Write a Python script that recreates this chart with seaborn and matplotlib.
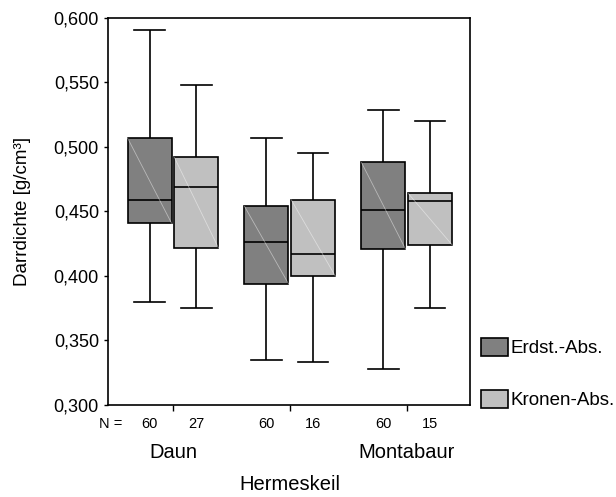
import numpy as np
import pandas as pd
import matplotlib
matplotlib.use("Agg")
import matplotlib.pyplot as plt
import seaborn as sns
from matplotlib.patches import Patch
from matplotlib.ticker import FuncFormatter, MultipleLocator
from matplotlib.transforms import blended_transform_factory

# ---- data (five-number summaries) ----
sites = ["Daun", "Hermeskeil", "Montabaur"]
groups = ["Erdst.-Abs.", "Kronen-Abs."]
n_erdst = [60, 60, 60]
n_kronen = [27, 16, 15]

erdst_min = [0.380, 0.335, 0.328]
erdst_q1 = [0.441, 0.394, 0.421]
erdst_med = [0.459, 0.426, 0.451]
erdst_q3 = [0.507, 0.454, 0.488]
erdst_max = [0.591, 0.507, 0.529]

kronen_min = [0.375, 0.333, 0.375]
kronen_q1 = [0.422, 0.400, 0.424]
kronen_med = [0.469, 0.417, 0.458]
kronen_q3 = [0.492, 0.459, 0.464]
kronen_max = [0.548, 0.495, 0.520]

colors = ["#808080", "#c0c0c0"]

rows = []
for g, stats in zip(groups, [
        (erdst_min, erdst_q1, erdst_med, erdst_q3, erdst_max),
        (kronen_min, kronen_q1, kronen_med, kronen_q3, kronen_max)]):
    for i, s in enumerate(sites):
        for arr in stats:
            rows.append({"Standort": s, "Gruppe": g, "Darrdichte": arr[i]})
df = pd.DataFrame(rows)

plt.rcParams["font.family"] = ["Liberation Sans", "DejaVu Sans"]

fig = plt.figure(figsize=(6.16, 4.97), dpi=100)
ax = fig.add_axes([108 / 616, 1 - 405 / 497, (470 - 108) / 616, (405 - 18) / 497])

sns.boxplot(data=df, x="Standort", y="Darrdichte", hue="Gruppe",
            order=sites, hue_order=groups, palette=colors,
            whis=(0, 100), width=0.8, gap=0.06, linewidth=1.2,
            linecolor="black", showfliers=False, legend=False,
            capwidths=0.26, ax=ax)

# faint diagonal highlight in each box (as in the original SPSS graphic)
for p in list(ax.patches):
    v = p.get_path().vertices
    x0, x1 = v[:, 0].min(), v[:, 0].max()
    y0, y1 = v[:, 1].min(), v[:, 1].max()
    ax.plot([x0, x1], [y1, y0], color="white", lw=0.6, alpha=0.45, zorder=3)

ax.set_xlim(-0.555, 2.54)
ax.set_ylim(0.300, 0.600)
ax.yaxis.set_major_locator(MultipleLocator(0.05))
ax.yaxis.set_major_formatter(FuncFormatter(lambda v, p: f"{v:.3f}".replace(".", ",")))
ax.tick_params(axis="y", labelsize=13, length=3, width=1, direction="out", pad=3.5)
ax.set_xticks(range(len(sites)))
ax.set_xticklabels([""] * len(sites))
ax.tick_params(axis="x", length=4, width=1, direction="out")
for sp in ax.spines.values():
    sp.set_visible(True)
    sp.set_color("black")
    sp.set_linewidth(1.2)
ax.set_xlabel("")
ax.set_ylabel("Darrdichte [g/cm³]", fontsize=13.5, labelpad=16)

# N row and staggered site labels
tr = blended_transform_factory(ax.transData, ax.transAxes)
ax.annotate("N =", xy=(0, 0), xycoords="axes fraction",
            xytext=(-9, -19), textcoords="offset pixels",
            ha="left", va="center", fontsize=10.5)
for i, s in enumerate(sites):
    for off, n in zip((-0.2, 0.2), (n_erdst[i], n_kronen[i])):
        ax.annotate(str(n), xy=(i + off, 0), xycoords=tr,
                    xytext=(0, -19), textcoords="offset pixels",
                    ha="center", va="center", fontsize=10.5)
    dy = -80 if i % 2 else -47
    ax.annotate(s, xy=(i, 0), xycoords=tr, xytext=(0, dy),
                textcoords="offset pixels", ha="center", va="center",
                fontsize=14.5)

handles = [Patch(facecolor=c, edgecolor="black", linewidth=1.2) for c in colors]
fig.legend(handles, groups, loc="upper left",
           bbox_to_anchor=(481 / 616, 1 - 338 / 497), frameon=False,
           fontsize=13.5, handlelength=1.44, handleheight=1.07,
           handletextpad=0.12, labelspacing=1.76, borderpad=0,
           borderaxespad=0)

fig.savefig("out.png", dpi=100)
